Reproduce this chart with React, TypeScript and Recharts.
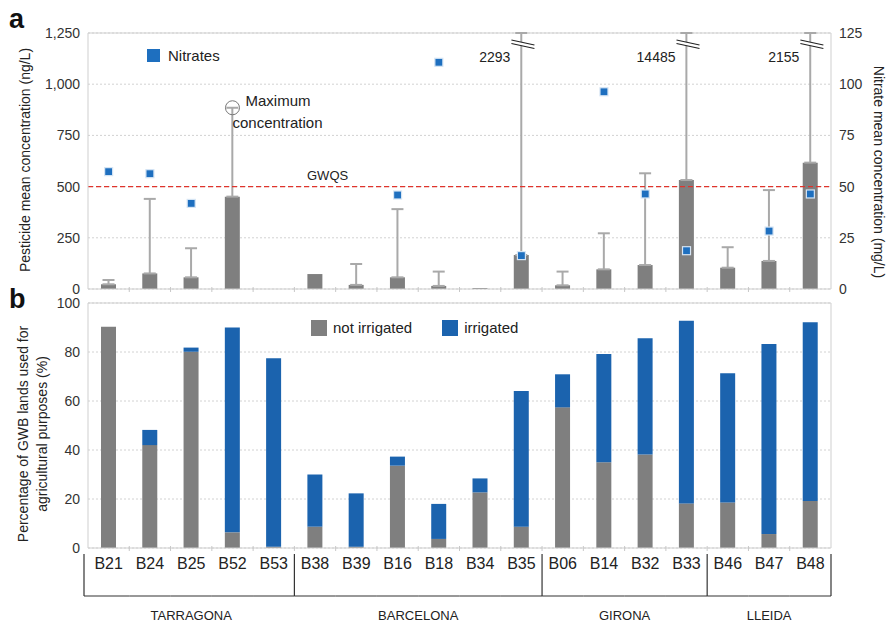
import {
  ComposedChart,
  Bar,
  Line,
  XAxis,
  YAxis,
  CartesianGrid,
  ErrorBar,
  ReferenceLine,
  ReferenceDot,
  Legend,
} from "recharts";

// groundwater bodies, grouped by province
const categories = ["B21", "B24", "B25", "B52", "B53", "B38", "B39", "B16", "B18", "B34", "B35", "B06", "B14", "B32", "B33", "B46", "B47", "B48"];
const provinces = ["TARRAGONA", "BARCELONA", "GIRONA", "LLEIDA"];
const provinceSizes = [5, 6, 4, 3];

// panel a: pesticides (ng/L) and nitrates (mg/L)
const pesticideMean = [23, 76, 57, 451, null, 73, 20, 57, 15, 5, 166, 18, 96, 117, 532, 104, 137, 617];
const pesticideMax = [44, 440, 199, 885, null, null, 122, 390, 85, null, 2293, 85, 272, 565, 14485, 204, 483, 2155];
const nitrateMean = [57.3, 56.3, 41.8, null, null, null, null, 45.9, 110.7, null, 16.3, null, 96.3, 46.4, 18.7, null, 28.3, 46.4];
const pesticideTicks = [0, 250, 500, 750, 1000, 1250];
const nitrateTicks = [0, 25, 50, 75, 100, 125];
const gwqs = 500;

// panel b: agricultural land use (%)
const notIrrigated = [90.3, 42, 80.1, 6.4, 0.5, 8.7, 0.5, 33.6, 3.7, 22.7, 8.7, 57.4, 35, 38.2, 18.2, 18.6, 5.7, 19.2];
const irrigated = [0, 6.2, 1.7, 83.6, 76.9, 21.3, 21.8, 3.7, 14.3, 5.7, 55.4, 13.5, 44.2, 47.4, 74.6, 52.7, 77.6, 72.9];
const percentTicks = [0, 20, 40, 60, 80, 100];

const FONT = '"Liberation Sans", Arial, sans-serif';
const W = 891;
const LEFT = 88;
const RIGHT = 60;
const BAND = (W - LEFT - RIGHT) / categories.length;
const GRAY = "#7f7f7f";
const BLUE = "#1b63ae";
const FRAME = "#cfcfcf";
const TOP_MAX = pesticideTicks[pesticideTicks.length - 1];

const topData = categories.map((name, i) => {
  const mean = pesticideMean[i];
  const max = pesticideMax[i];
  return {
    name,
    pest: mean,
    // whiskers stop at the axis top; the broken ones get a "//" mark and their value
    err: mean != null && max != null ? [0, Math.min(max, TOP_MAX) - mean] : null,
    nitrate: nitrateMean[i],
  };
});

const bottomData = categories.map((name, i) => ({
  name,
  notIrrigated: notIrrigated[i],
  irrigated: irrigated[i],
}));

const groupStarts = provinceSizes.map((_, g) => provinceSizes.slice(0, g).reduce((a, b) => a + b, 0));

const tickStyle = { fontSize: 14, fill: "#333", fontFamily: FONT };

function AxisTitle(props: any) {
  const { tx, ty, rot, lines, gap = 19 } = props;
  return (
    <g transform={`translate(${tx},${ty}) rotate(${rot})`}>
      {lines.map((t: string, i: number) => (
        <text key={t} x={0} y={i * gap} textAnchor="middle" fontSize={14} fill="#222" fontFamily={FONT}>
          {t}
        </text>
      ))}
    </g>
  );
}

// small marks between categories on the baseline
function BoundaryTick(props: any) {
  const { x, y, index } = props;
  if (index === categories.length - 1) return <g />;
  return <line x1={x + BAND / 2} x2={x + BAND / 2} y1={y - 2} y2={y + 3} stroke="#c8c8c8" />;
}

function CategoryTick(props: any) {
  const { x, y, payload, index } = props;
  const half = BAND / 2;
  const g = groupStarts.indexOf(index);
  const last = index === categories.length - 1;
  const left = index === 0 ? x - half - 4 : x - half;
  return (
    <g>
      {!last && <line x1={x + half} x2={x + half} y1={y - 2} y2={y + 3} stroke="#c8c8c8" />}
      <text x={x} y={y + 21} textAnchor="middle" fontSize={16} fill="#222" fontFamily={FONT}>
        {payload.value}
      </text>
      <line x1={left} x2={x + half} y1={y + 48} y2={y + 48} stroke="#333" strokeWidth={1.2} />
      {g >= 0 && <line x1={left} x2={left} y1={y + 6} y2={y + 48} stroke="#333" strokeWidth={1.2} />}
      {last && <line x1={x + half} x2={x + half} y1={y + 6} y2={y + 48} stroke="#333" strokeWidth={1.2} />}
      {g >= 0 && (
        <text
          x={x + ((provinceSizes[g] - 1) / 2) * BAND}
          y={y + 72}
          textAnchor="middle"
          fontSize={13}
          fill="#222"
          fontFamily={FONT}
        >
          {provinces[g]}
        </text>
      )}
    </g>
  );
}

function NitrateDot(props: any) {
  const { cx, cy, index } = props;
  if (cy == null || Number.isNaN(cy) || nitrateMean[index] == null) return <g key={index} />;
  return (
    <rect key={index} x={cx - 4} y={cy - 4} width={8} height={8} fill="#1e6fbf" stroke="#d6e5f4" strokeWidth={1.2} />
  );
}

// "//" break mark on error bars that run past the axis top, with the true maximum
function BreakMark(props: any) {
  const { cx, cy, value } = props;
  return (
    <g>
      <polygon points={`${cx - 10},${cy + 7} ${cx + 13},${cy + 12} ${cx + 13},${cy + 15.5} ${cx - 10},${cy + 10.5}`} fill="#fff" />
      <line x1={cx - 10} y1={cy + 7} x2={cx + 13} y2={cy + 12} stroke="#222" strokeWidth={1.2} />
      <line x1={cx - 10} y1={cy + 10.5} x2={cx + 13} y2={cy + 15.5} stroke="#222" strokeWidth={1.2} />
      <text x={cx - 11} y={cy + 29} textAnchor="end" fontSize={14} fill="#222" fontFamily={FONT}>
        {value}
      </text>
    </g>
  );
}

function MaxMarker(props: any) {
  const { cx, cy } = props;
  return (
    <g fontFamily={FONT} fontSize={15} fill="#222">
      <circle cx={cx} cy={cy} r={7} fill="none" stroke="#777" strokeWidth={1} />
      <text x={cx + 13} y={cy - 2}>Maximum</text>
      <text x={cx} y={cy + 20}>concentration</text>
    </g>
  );
}

function GwqsLabel(props: any) {
  const { viewBox } = props;
  return (
    <text x={viewBox.x + 219} y={viewBox.y - 7} fontSize={13} fill="#222" fontFamily={FONT}>
      GWQS
    </text>
  );
}

function LegendSwatch({ color, label, size, gap, style }: any) {
  return (
    <div style={{ display: "flex", alignItems: "center", ...style }}>
      <span style={{ display: "inline-block", width: size, height: size, background: color, marginRight: gap }} />
      <span>{label}</span>
    </div>
  );
}

export default function App() {
  const breaks = categories
    .map((name, i) => ({ name, max: pesticideMax[i] }))
    .filter((d) => d.max != null && d.max > TOP_MAX);

  return (
    <div style={{ position: "absolute", left: 0, top: 0, width: W, height: 622, background: "#fff", fontFamily: FONT }}>
      <svg width={W} height={622} style={{ position: "absolute", left: 0, top: 0 }}>
        <text x={9} y={28} fontSize={27} fontWeight="bold" fill="#111" fontFamily={FONT}>a</text>
        <text x={9} y={308} fontSize={27} fontWeight="bold" fill="#111" fontFamily={FONT}>b</text>
      </svg>

      {/* a: pesticide and nitrate concentrations */}
      <div style={{ position: "absolute", left: 0, top: 0 }}>
        <ComposedChart width={W} height={300} data={topData} margin={{ top: 33, right: 0, bottom: 0, left: 0 }} barSize={15}>
          <CartesianGrid yAxisId="left" vertical={false} stroke="#d2d2d2" strokeDasharray="2 2" />
          <XAxis
            dataKey="name"
            height={11}
            interval={0}
            tickSize={0}
            tickMargin={0}
            axisLine={{ stroke: FRAME }}
            tick={(p: any) => <BoundaryTick {...p} />}
          />
          <YAxis
            yAxisId="left"
            width={LEFT}
            domain={[0, TOP_MAX]}
            allowDataOverflow
            ticks={pesticideTicks}
            tickFormatter={(v: number) => v.toLocaleString("en-US")}
            tickLine={false}
            axisLine={{ stroke: FRAME }}
            tick={tickStyle}
            label={<AxisTitle tx={30} ty={160} rot={-90} lines={["Pesticide mean concentration (ng/L)"]} />}
          />
          <YAxis
            yAxisId="right"
            orientation="right"
            width={RIGHT}
            domain={[0, 125]}
            ticks={nitrateTicks}
            tickLine={false}
            axisLine={{ stroke: FRAME }}
            tick={tickStyle}
            label={<AxisTitle tx={874} ty={172} rot={90} lines={["Nitrate mean concentration (mg/L)"]} />}
          />
          <ReferenceLine yAxisId="left" y={TOP_MAX} stroke={FRAME} />
          <Bar yAxisId="left" dataKey="pest" fill={GRAY} isAnimationActive={false}>
            <ErrorBar dataKey="err" direction="y" width={6} stroke="#a9a9a9" strokeWidth={2} />
          </Bar>
          <ReferenceLine yAxisId="left" y={gwqs} stroke="#e0342c" strokeDasharray="5 3" strokeWidth={1.3} label={<GwqsLabel />} />
          <ReferenceDot yAxisId="left" x="B52" y={pesticideMax[3] as number} r={7} shape={(p: any) => <MaxMarker {...p} />} />
          {breaks.map((b) => (
            <ReferenceDot
              key={b.name}
              yAxisId="left"
              x={b.name}
              y={TOP_MAX}
              r={1}
              shape={(p: any) => <BreakMark {...p} value={b.max} />}
            />
          ))}
          <Line
            yAxisId="right"
            dataKey="nitrate"
            stroke="none"
            dot={(p: any) => <NitrateDot {...p} />}
            activeDot={false}
            isAnimationActive={false}
          />
          <Legend
            layout="horizontal"
            verticalAlign="middle"
            align="center"
            wrapperStyle={{ left: 147, top: 47, width: "auto" }}
            content={() => (
              <LegendSwatch color="#1e6fbf" label="Nitrates" size={13} gap={8} style={{ fontSize: 15, color: "#222" }} />
            )}
          />
        </ComposedChart>
      </div>

      {/* b: share of agricultural land, not irrigated / irrigated */}
      <div style={{ position: "absolute", left: 0, top: 290 }}>
        <ComposedChart width={W} height={332} data={bottomData} margin={{ top: 13, right: 0, bottom: 0, left: 0 }} barSize={15}>
          <CartesianGrid yAxisId="pct" vertical={false} stroke="#d2d2d2" strokeDasharray="2 2" />
          <XAxis
            dataKey="name"
            height={74}
            interval={0}
            tickSize={0}
            tickMargin={0}
            axisLine={{ stroke: FRAME }}
            tick={(p: any) => <CategoryTick {...p} />}
          />
          <YAxis
            yAxisId="pct"
            width={LEFT}
            domain={[0, 100]}
            ticks={percentTicks}
            tickLine={false}
            axisLine={{ stroke: FRAME }}
            tick={tickStyle}
            label={
              <AxisTitle
                tx={28}
                ty={144}
                rot={-90}
                gap={19}
                lines={["Percentage of GWB lands used for", "agricultural purposes (%)"]}
              />
            }
          />
          <YAxis yAxisId="edge" orientation="right" width={RIGHT} domain={[0, 1]} tick={false} tickLine={false} axisLine={{ stroke: FRAME }} />
          <ReferenceLine yAxisId="pct" y={100} stroke={FRAME} />
          <Bar yAxisId="pct" dataKey="notIrrigated" stackId="land" fill={GRAY} isAnimationActive={false} />
          <Bar yAxisId="pct" dataKey="irrigated" stackId="land" fill={BLUE} isAnimationActive={false} />
          <Legend
            layout="horizontal"
            verticalAlign="middle"
            align="center"
            wrapperStyle={{ left: 311, top: 29, width: "auto" }}
            content={() => (
              <div style={{ display: "flex", fontSize: 15, color: "#222" }}>
                <LegendSwatch color={GRAY} label="not irrigated" size={16} gap={6} style={{ marginRight: 30 }} />
                <LegendSwatch color={BLUE} label="irrigated" size={16} gap={6} />
              </div>
            )}
          />
        </ComposedChart>
      </div>
    </div>
  );
}
